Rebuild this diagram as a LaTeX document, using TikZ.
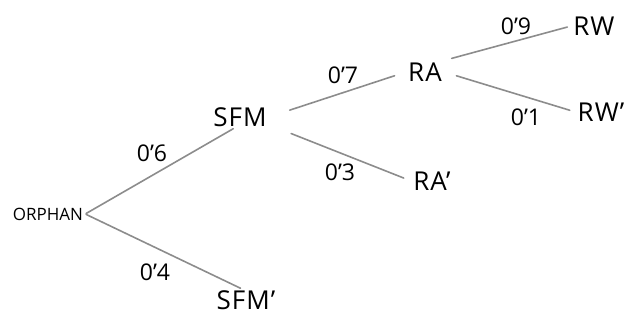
\documentclass[tikz,border=0pt]{standalone}
\usepackage{fontspec}
\setmainfont{Open Sans}
\begin{document}
\begin{tikzpicture}[x=1pt,y=-1pt,
  lbl/.style={font=\fontsize{26}{26}\selectfont\addfontfeatures{LetterSpace=4}, inner sep=2pt},
  prob/.style={font=\fontsize{23}{23}\selectfont, inner sep=0pt},
  edge/.style={draw=black!45, line width=1.6pt, line cap=round}]
\useasboundingbox (0,0) rectangle (640,320);
\node[font=\fontsize{17}{17}\selectfont, inner sep=2pt] (orphan) at (48,214) {ORPHAN};
\node[lbl] (sfm) at (240,117) {SFM};
\node[lbl] (sfmc) at (246,300) {SFM'};
\node[lbl] (ra) at (425,72) {RA};
\node[lbl] (rac) at (432,181) {RA'};
\node[lbl] (rw) at (594,26) {RW};
\node[lbl] (rwc) at (601,112) {RW'};
\draw[edge, shorten <=1pt] (orphan.east) -- (sfm.240);
\draw[edge, shorten <=1pt] (orphan.east) -- (sfmc.115);
\draw[edge, shorten <=22pt, shorten >=12pt] (sfm.east) -- (ra.west);
\draw[edge, shorten <=24pt, shorten >=8pt] (sfm.-15) -- (rac.west);
\draw[edge, shorten <=8pt, shorten >=4pt] (ra.north east) -- (rw.west);
\draw[edge, shorten <=13pt, shorten >=6pt] (ra.east) -- (rwc.west);
\node[prob] (p6) at (152,153) {0'6};
\node[prob] (p4) at (155,272) {0'4};
\node[prob] (p7) at (343,75) {0'7};
\node[prob] (p3) at (340,172) {0'3};
\node[prob] (p9) at (516,26) {0'9};
\node[prob] (p1) at (526,117) {0'1};
\end{tikzpicture}
\end{document}
